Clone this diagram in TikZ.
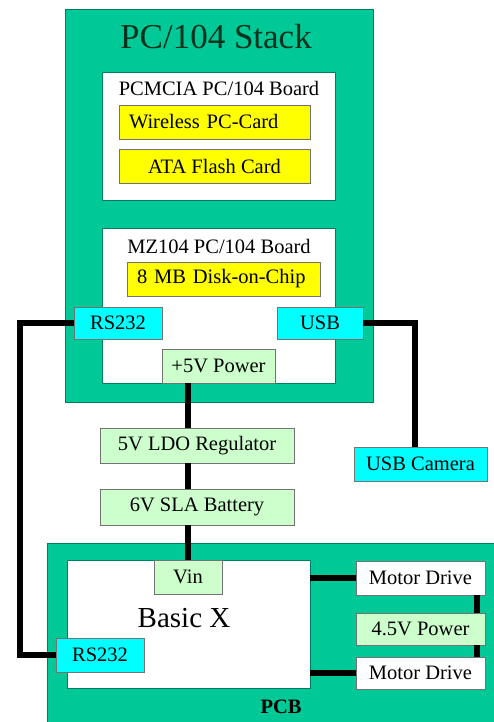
\documentclass[tikz,border=0pt]{standalone}
\usepackage{fontspec}
\setmainfont{Liberation Serif}
\definecolor{pcgreen}{RGB}{0,200,150}
\definecolor{pcedge}{RGB}{0,125,95}
\definecolor{pcdark}{RGB}{0,50,30}
\definecolor{pwrgreen}{RGB}{204,255,204}
\definecolor{portcyan}{RGB}{0,255,255}
\definecolor{cardyellow}{RGB}{255,255,0}
\begin{document}
\begin{tikzpicture}[x=1pt,y=-1pt,
    base/.style={draw=#1, line width=0.8pt, inner sep=0pt, font=\fontsize{20.5}{23}\selectfont},
    tablero/.style={base=pcedge, fill=pcgreen},
    placa/.style={base=pcedge, fill=white},
    tarjeta/.style={base=black!55, fill=cardyellow},
    puerto/.style={base=black!55, fill=portcyan},
    fuente/.style={base=black!55, fill=pwrgreen},
    motor/.style={base=black!55, fill=white},
    rotulo/.style={font=\fontsize{20.5}{23}\selectfont},
    cable/.style={line width=6pt, black}]
    \useasboundingbox (0,0) rectangle (494,722);
    % Pila PC/104
    \node[tablero, minimum width=308pt, minimum height=393pt] (stack) at (219,205.5) {};
    \node[font=\fontsize{35}{40}\selectfont, text=pcdark] (title) at (216,37) {PC/104 Stack};
    \node[placa, minimum width=233pt, minimum height=128pt] (pcmcia) at (218.5,136) {};
    \node[rotulo] (pcmciatxt) at (219,88) {PCMCIA PC/104 Board};
    \node[tarjeta, minimum height=34pt, text width=171pt, align=left, inner xsep=10pt] (wifi) at (214.5,122) {Wireless PC-Card};
    \node[tarjeta, minimum width=191pt, minimum height=34pt] (ata) at (214.5,166) {ATA Flash Card};
    \node[placa, minimum width=233pt, minimum height=155pt] (mz) at (218.5,305.5) {};
    \node[rotulo] (mztxt) at (219,246) {MZ104 PC/104 Board};
    \node[tarjeta, minimum height=34pt, text width=173pt, align=left, inner xsep=10pt] (doc) at (223.5,279) {8 MB Disk-on-Chip};
    \node[puerto, minimum width=88pt, minimum height=32pt] (rstop) at (118,323) {RS232};
    \node[puerto, minimum width=86pt, minimum height=32pt] (usb) at (320,323) {USB};
    \node[fuente, minimum width=113pt, minimum height=34pt] (pwr5) at (218.5,366) {+5V Power};
    % Alimentacion y camara
    \node[fuente, minimum width=194pt, minimum height=35pt] (ldo) at (197,445.5) {5V LDO Regulator};
    \node[fuente, minimum width=194pt, minimum height=36pt] (bat) at (197,507) {6V SLA Battery};
    \node[puerto, minimum width=133pt, minimum height=34pt] (cam) at (420.5,464) {USB Camera};
    % Placa PCB
    \node[tablero, minimum width=450pt, minimum height=183pt] (pcb) at (272,634.5) {};
    \node[rotulo, font=\fontsize{20.5}{23}\selectfont\bfseries] (pcbtxt) at (281,707) {PCB};
    \node[placa, minimum width=243pt, minimum height=128pt] (basic) at (188.5,624) {};
    \node[font=\fontsize{29}{32}\selectfont] (basictxt) at (184,618) {Basic X};
    \node[fuente, minimum width=68pt, minimum height=34pt] (vin) at (188,577) {Vin};
    \node[puerto, minimum width=88pt, minimum height=34pt] (rslow) at (100,655) {RS232};
    \node[motor, minimum width=129pt, minimum height=34pt] (md1) at (420.5,578) {Motor Drive};
    \node[fuente, minimum width=129pt, minimum height=32pt] (p45) at (420.5,629) {4.5V Power};
    \node[motor, minimum width=129pt, minimum height=32pt] (md2) at (420.5,673) {Motor Drive};
    % Cables
    \draw[cable] (rstop.west) -- ++(-54,0) |- (rslow.west);
    \draw[cable] (usb.east) -| ([xshift=-5.5pt]cam.north);
    \draw[cable] (pwr5.south -| vin.north) -- (ldo.north -| vin.north);
    \draw[cable] (ldo.south -| vin.north) -- (bat.north -| vin.north);
    \draw[cable] (bat.south -| vin.north) -- (vin.north);
    \draw[cable] (basic.east |- md1.west) -- (md1.west);
    \draw[cable] (basic.east |- md2.west) -- (md2.west);
    \draw[cable] ([xshift=-8pt]md1.south east) -- ([xshift=-8pt]p45.north east);
    \draw[cable] ([xshift=-8pt]p45.south east) -- ([xshift=-8pt]md2.north east);
\end{tikzpicture}
\end{document}
